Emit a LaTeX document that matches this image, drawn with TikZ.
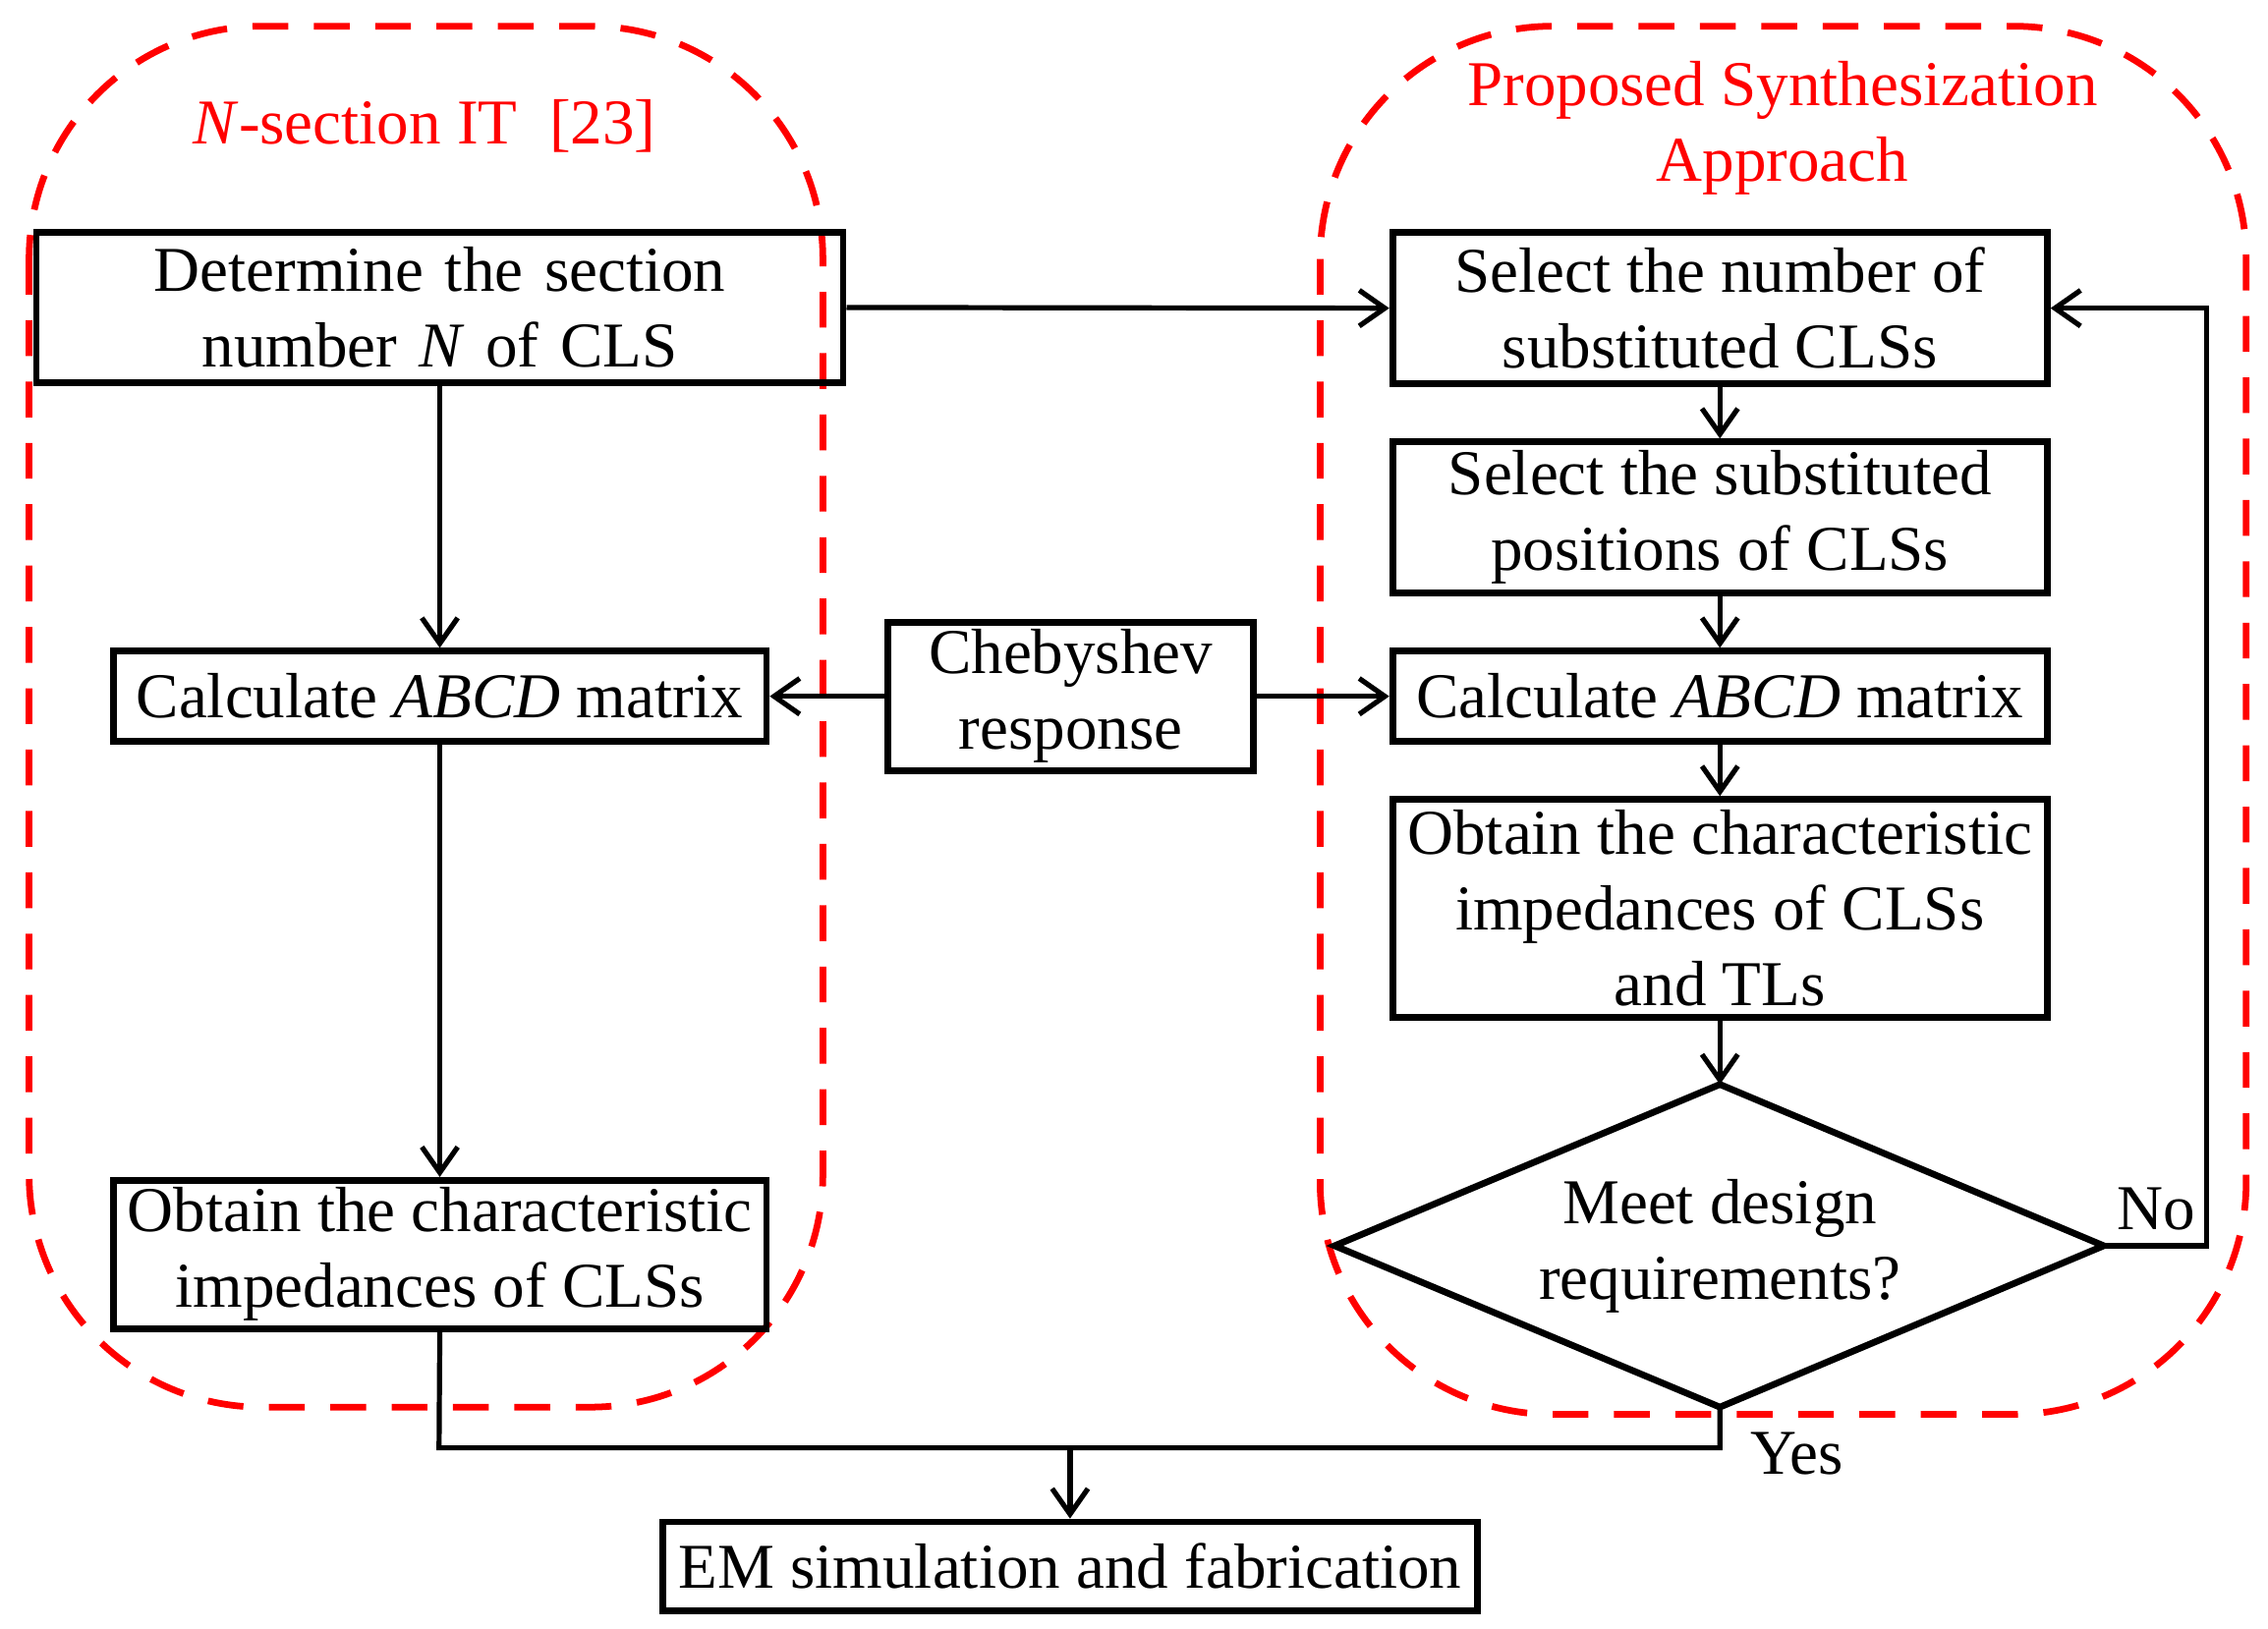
\documentclass[tikz,border=0pt]{standalone}
\usepackage{fontspec}
\setmainfont{Liberation Serif}
\usetikzlibrary{arrows.meta}
\begin{document}
\begin{tikzpicture}[x=0.01cm,y=-0.01cm,
  box/.style={draw,line width=1.3pt,inner sep=0pt,align=center,font=\fontsize{12.5}{14.8}\selectfont},
  grp/.style={draw=red,dashed,line width=1.3pt,rounded corners=1.6cm,dash pattern=on 7pt off 5pt},
  arr/.style={line width=1pt,-{Straight Barb[length=5pt,width=7pt]}},
  lab/.style={font=\fontsize{12.5}{14.8}\selectfont}]
\useasboundingbox (0,0) rectangle (1560,1120);
\draw[grp] (20,18) rectangle (566,968);
\draw[grp] (908,18) rectangle (1545,973);
\node[lab,text=red] (t1) at (292,87) {\textit{N}-section IT\ \ [23]};
\node[lab,text=red,align=center] (t2) at (1226,88) {Proposed Synthesization\\Approach};
\node[box,minimum width=449pt*0.3515,minimum height=1.03cm,text width=4.4cm] (A) at (302.5,211.5) {Determine the section\\number \textit{N} of CLS};
\node[box,minimum width=4.49cm,minimum height=0.62cm] (B) at (302.5,479) {Calculate \textit{ABCD} matrix};
\node[box,minimum width=4.49cm,minimum height=1.02cm] (C) at (302.5,863) {Obtain the characteristic\\impedances of CLSs};
\node[box,minimum width=2.51cm,minimum height=1.02cm] (Ch) at (736.5,479) {Chebyshev\\response};
\node[box,minimum width=4.5cm,minimum height=1.04cm] (R1) at (1183,212) {Select the number of\\substituted CLSs};
\node[box,minimum width=4.5cm,minimum height=1.04cm] (R2) at (1183,356) {Select the substituted\\positions of CLSs};
\node[box,minimum width=4.5cm,minimum height=0.62cm] (R3) at (1183,479) {Calculate \textit{ABCD} matrix};
\node[box,minimum width=4.5cm,minimum height=1.5cm] (R4) at (1183,625) {Obtain the characteristic\\impedances of CLSs\\and TLs};
\draw[line width=1.3pt] (918,857) coordinate (dl) -- (1183,746) coordinate (dt) -- (1447,857) coordinate (dr) -- (1183,968) coordinate (db) -- cycle;
\node[lab,align=center] (D) at (1183,857) {Meet design\\requirements?};
\node[box,minimum width=5.6cm,minimum height=0.61cm] (E) at (736,1077.5) {EM simulation and fabrication};
\node[lab] (no) at (1483,832) {No};
\node[lab] (yes) at (1236,1000) {Yes};
\draw[arr] (A.east) -- (R1.west);
\draw[arr] (A) -- (B);
\draw[arr] (B) -- (C);
\draw[arr] (Ch) -- (B);
\draw[arr] (Ch) -- (R3);
\draw[arr] (R1) -- (R2);
\draw[arr] (R2) -- (R3);
\draw[arr] (R3) -- (R4);
\draw[arr] (R4) -- (dt);
\draw[arr] (dr) -- (1518,857) -- (1518,212) -- (R1.east);
\draw[line width=1pt] (C.south) -- (302,996) -- (1183,996) -- (db);
\draw[arr] (736,996) -- (E.north);
\end{tikzpicture}
\end{document}
